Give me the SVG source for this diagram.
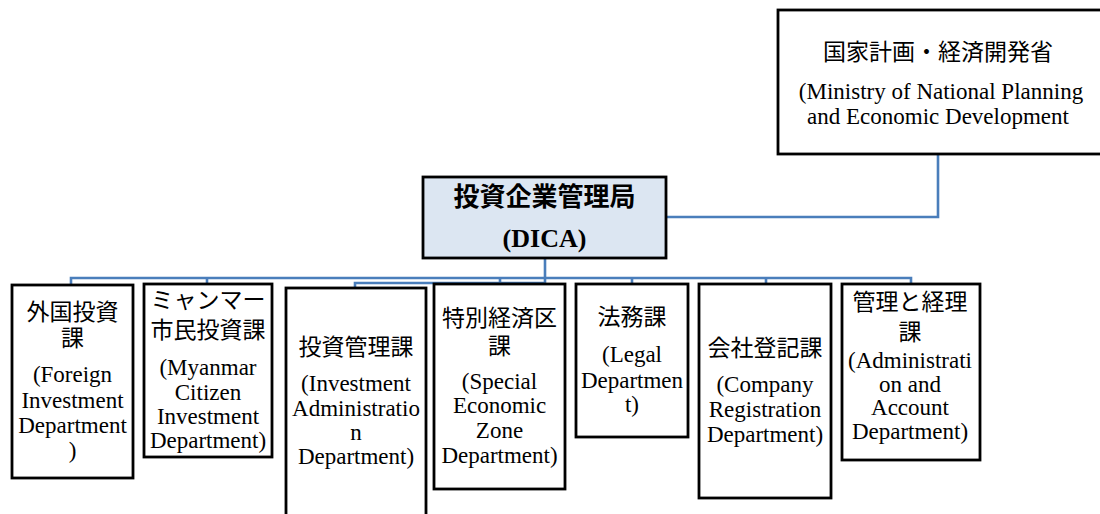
<svg xmlns="http://www.w3.org/2000/svg" width="1100" height="514" viewBox="0 0 1100 514">
<style>
.box{fill:#ffffff;stroke:#000000;stroke-width:2.8}
.dica{fill:#dce6f2;stroke:#000000;stroke-width:2.8}
.conn{fill:none;stroke:#4a7ebb;stroke-width:2.6}
text{font-family:"Liberation Serif","Noto Sans CJK JP",serif;font-size:23px;fill:#000000;text-anchor:middle}
.b{font-weight:bold;font-size:26px}
</style>
<rect width="1100" height="514" fill="#ffffff"/>
<g id="connectors">
<polyline class="conn" points="938,154 938,217 666,217"/>
<polyline class="conn" points="545,258 545,283 355,283 355,288"/>
<polyline class="conn" points="71,285 71,278 911,278 911,284"/>
<line class="conn" x1="207" y1="278" x2="207" y2="284"/>
<line class="conn" x1="500" y1="278" x2="500" y2="284"/>
<line class="conn" x1="632" y1="278" x2="632" y2="284"/>
<line class="conn" x1="766" y1="278" x2="766" y2="284"/>
</g>
<g id="ministry">
<rect class="box" x="778" y="10" width="324" height="144"/>
<text x="938" y="60">国家計画・経済開発省</text>
<text x="941" y="99">(Ministry of National Planning</text>
<text x="938" y="124">and Economic Development</text>
</g>
<g id="dica">
<rect class="dica" x="423" y="177" width="243" height="81"/>
<text class="b" x="544.5" y="206">投資企業管理局</text>
<text class="b" x="544.5" y="247">(DICA)</text>
</g>
<g id="foreign">
<rect class="box" x="12" y="285" width="121" height="193"/>
<text x="72.5" y="320">外国投資</text>
<text x="72.5" y="346">課</text>
<text x="72.5" y="382">(Foreign</text>
<text x="72.5" y="408">Investment</text>
<text x="72.5" y="433">Department</text>
<text x="72.5" y="458">)</text>
</g>
<g id="citizen">
<rect class="box" x="144" y="284" width="128" height="173"/>
<text x="208" y="308">ミャンマー</text>
<text x="208" y="338">市民投資課</text>
<text x="208" y="375">(Myanmar</text>
<text x="208" y="399.5">Citizen</text>
<text x="208" y="424">Investment</text>
<text x="208" y="448">Department)</text>
</g>
<g id="admin-inv">
<rect class="box" x="286" y="288" width="140" height="232"/>
<text x="356" y="355">投資管理課</text>
<text x="356" y="391">(Investment</text>
<text x="356" y="416">Administratio</text>
<text x="356" y="440">n</text>
<text x="356" y="464">Department)</text>
</g>
<g id="sez">
<rect class="box" x="434" y="284" width="131" height="205"/>
<text x="499.5" y="326">特別経済区</text>
<text x="499.5" y="354">課</text>
<text x="499.5" y="389">(Special</text>
<text x="499.5" y="413">Economic</text>
<text x="499.5" y="438">Zone</text>
<text x="499.5" y="463">Department)</text>
</g>
<g id="legal">
<rect class="box" x="576" y="284" width="112" height="153"/>
<text x="632" y="325">法務課</text>
<text x="632" y="362">(Legal</text>
<text x="632" y="388">Departmen</text>
<text x="632" y="412">t)</text>
</g>
<g id="company">
<rect class="box" x="699" y="284" width="132" height="214"/>
<text x="765" y="356">会社登記課</text>
<text x="765" y="392">(Company</text>
<text x="765" y="417">Registration</text>
<text x="765" y="442">Department)</text>
</g>
<g id="account">
<rect class="box" x="842" y="284" width="138" height="176"/>
<text x="910" y="310">管理と経理</text>
<text x="910" y="340">課</text>
<text x="910" y="368">(Administrati</text>
<text x="910" y="392">on and</text>
<text x="910" y="415">Account</text>
<text x="910" y="439">Department)</text>
</g>
</svg>
